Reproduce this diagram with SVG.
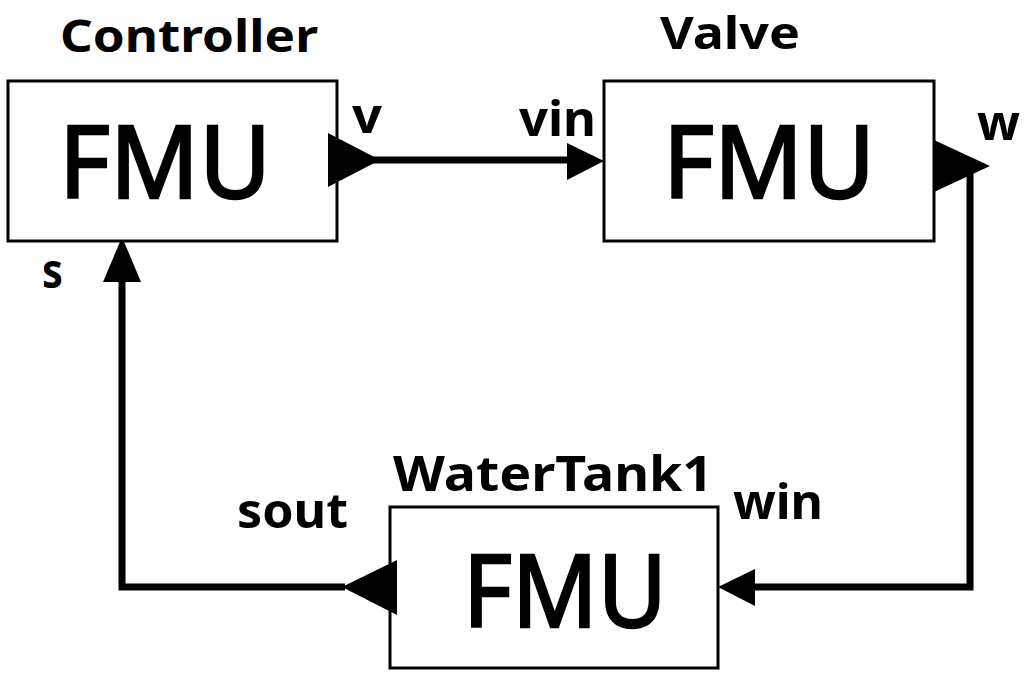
<svg xmlns="http://www.w3.org/2000/svg" width="1028" height="678" viewBox="0 0 1028 678">
<style>
.box{fill:#fff;stroke:#000;stroke-width:3}
.fmu{font-family:"Noto Sans","Liberation Sans",sans-serif;font-size:100px;fill:#000;stroke:#000;stroke-width:2.5}
.lbl{font-family:"Noto Sans","Liberation Sans",sans-serif;font-weight:bold;font-size:48px;fill:#000}
.top{font-size:45px}
.wire{fill:none;stroke:#000;stroke-width:7}
.port{fill:#000}
</style>
<rect width="1028" height="678" fill="#fff"/>
<g id="connectors">
<path class="wire" d="M372 160 H572"/>
<polygon class="port" points="604,161 567,143 567,180"/>
<path class="wire" d="M970 172 V587 H750"/>
<polygon class="port" points="718,587 755,569 755,606"/>
<path class="wire" d="M345 587 H122 V276"/>
<polygon class="port" points="122,237 103,282 141,282"/>
</g>
<g id="controller">
<rect class="box" x="8" y="81" width="329" height="160"/>
<text class="fmu" x="165" y="198" text-anchor="middle" textLength="212" lengthAdjust="spacingAndGlyphs">FMU</text>
<text class="lbl top" x="60" y="52" textLength="258" lengthAdjust="spacingAndGlyphs">Controller</text>
<polygon class="port" points="328,133 380,160 328,187"/>
<text class="lbl" x="352" y="133" textLength="30" lengthAdjust="spacingAndGlyphs">v</text>
<text class="lbl" x="42" y="288" textLength="21" lengthAdjust="spacingAndGlyphs">s</text>
</g>
<g id="valve">
<rect class="box" x="604" y="81" width="330" height="160"/>
<text class="fmu" x="769" y="198" text-anchor="middle" textLength="212" lengthAdjust="spacingAndGlyphs">FMU</text>
<text class="lbl top" x="660" y="49" textLength="140" lengthAdjust="spacingAndGlyphs">Valve</text>
<text class="lbl" x="519" y="136" textLength="77" lengthAdjust="spacingAndGlyphs">vin</text>
<polygon class="port" points="934,140 990,166 934,192"/>
<text class="lbl" x="977" y="140" textLength="43" lengthAdjust="spacingAndGlyphs">w</text>
</g>
<g id="watertank1">
<rect class="box" x="390" y="507" width="328" height="161"/>
<text class="fmu" x="565" y="627" text-anchor="middle" textLength="204" lengthAdjust="spacingAndGlyphs">FMU</text>
<text class="lbl" x="393" y="491" textLength="320" lengthAdjust="spacingAndGlyphs">WaterTank1</text>
<polygon class="port" points="397,560 342,587 397,615"/>
<text class="lbl" x="237" y="528" textLength="111" lengthAdjust="spacingAndGlyphs">sout</text>
<text class="lbl" x="733" y="519" textLength="90" lengthAdjust="spacingAndGlyphs">win</text>
</g>
</svg>
